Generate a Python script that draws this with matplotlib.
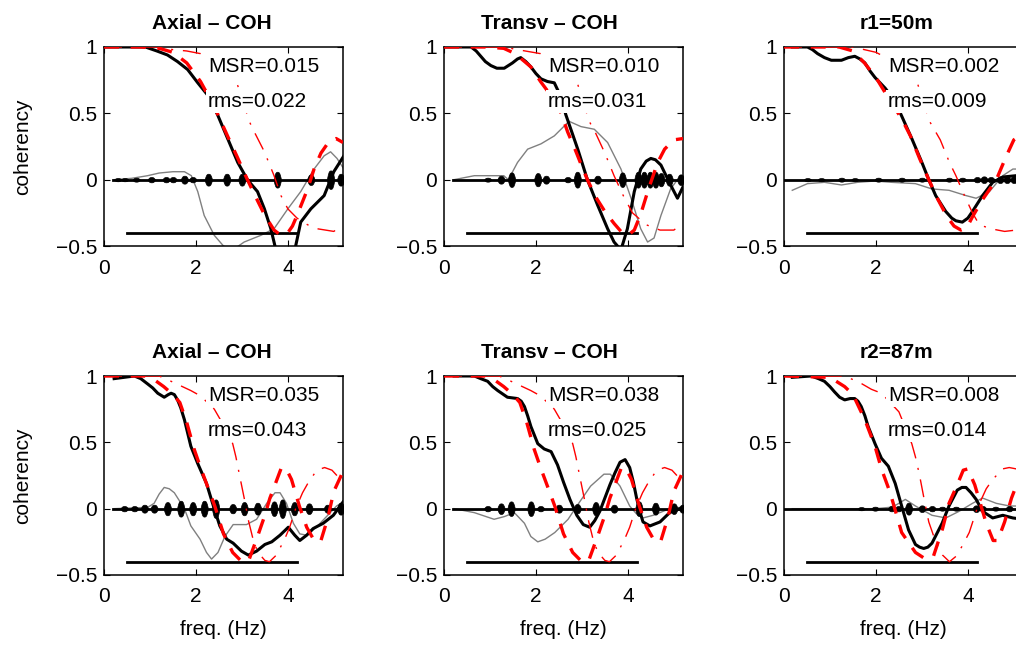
import matplotlib
matplotlib.use("Agg")
import matplotlib.pyplot as plt
import numpy as np

plt.rcParams['font.family'] = ['Liberation Sans', 'DejaVu Sans']

# ---------------- data ----------------
titles = ["Axial – COH", "Transv – COH", "r1=50m",
          "Axial – COH", "Transv – COH", "r2=87m"]
msr_labels = ["MSR=0.015", "MSR=0.010", "MSR=0.002",
              "MSR=0.035", "MSR=0.038", "MSR=0.008"]
rms_labels = ["rms=0.022", "rms=0.031", "rms=0.009",
              "rms=0.043", "rms=0.025", "rms=0.014"]
xticks = [0, 2, 4]
yticks = [-0.5, 0, 0.5, 1]
ytick_labels = ["\u22120.5", "0", "0.5", "1"]
band_range = [0.5, 4.2]
band_level = -0.4
signal_start = [0.2, 0.2, 0.0, 0.2, 0.2, 0.0]

# panel 1: Axial - COH (r1)
p1_obs = [(0.05,1.0),(0.5,1.0),(0.9,1.0),(1.15,0.97),(1.38,0.94),(1.6,0.89),(1.82,0.83),
          (2.04,0.73),(2.25,0.64),(2.47,0.49),(2.69,0.31),(2.91,0.13),(3.12,0.0),(3.34,-0.09),
          (3.49,-0.22),(3.63,-0.37),(3.72,-0.5),(3.8,-0.6),(4.05,-0.65),(4.17,-0.5),(4.28,-0.32),
          (4.5,-0.22),(4.79,-0.12),(5.0,0.06),(5.22,0.18)]
p1_gray = [(0.22,0.0),(0.6,0.01),(0.95,0.03),(1.2,0.05),(1.5,0.06),(1.75,0.06),(1.9,0.03),
           (2.04,-0.09),(2.18,-0.27),(2.4,-0.42),(2.6,-0.5),(2.8,-0.53),(3.05,-0.47),(3.41,-0.42),
           (3.7,-0.37),(4.0,-0.22),(4.28,-0.09),(4.57,0.08),(4.79,0.18),(4.93,0.21),(5.07,0.16),(5.22,0.08)]
p1_fit = [(0,1.0),(0.8,1.0),(1.2,0.99),(1.5,0.96),(1.8,0.88),(2.1,0.74),(2.4,0.55),(2.7,0.32),
          (2.9,0.17),(3.12,0.0),(3.3,-0.13),(3.5,-0.27),(3.7,-0.38),(3.85,-0.42),(4.0,-0.4),
          (4.1,-0.35),(4.2,-0.27),(4.43,-0.07),(4.57,0.08),(4.72,0.2),(4.9,0.29),(5.05,0.31),(5.2,0.28)]
p1_mod = [(0,1.0),(1.2,1.0),(1.5,0.98),(1.8,0.97),(2.1,0.95),(2.5,0.87),(2.89,0.73),(3.05,0.56),
          (3.16,0.44),(3.27,0.36),(3.49,0.21),(3.7,0.03),(3.85,-0.12),(4.0,-0.22),(4.2,-0.29),
          (4.43,-0.34),(4.64,-0.37),(5.0,-0.39),(5.2,-0.34)]
p1_burst_f = [0.3,0.45,0.7,1.03,1.35,1.5,1.75,1.93,2.27,2.67,3.0,3.77,4.5,4.93,5.15]
p1_burst_a = [0.012,0.012,0.015,0.02,0.02,0.02,0.03,0.02,0.045,0.045,0.045,0.06,0.04,0.07,0.045]

# panel 2: Transv - COH (r1)
p2_obs = [(0.05,1.0),(0.59,1.0),(0.7,0.97),(0.8,0.93),(0.9,0.89),(1.02,0.86),(1.15,0.84),(1.31,0.84),
          (1.49,0.88),(1.6,0.91),(1.67,0.92),(1.78,0.89),(1.89,0.85),(2.0,0.8),(2.11,0.76),(2.25,0.74),
          (2.4,0.73),(2.55,0.62),(2.65,0.49),(2.91,0.23),(3.12,0.0),
          (3.34,-0.19),(3.56,-0.37),(3.7,-0.47),(3.85,-0.53),(3.99,-0.37),(4.14,-0.09),(4.28,0.08),
          (4.4,0.14),(4.5,0.16),(4.6,0.15),(4.72,0.11),(4.93,-0.04),(5.08,-0.14),(5.22,-0.04)]
p2_gray = [(0.22,0.0),(0.66,0.03),(1.3,0.03),(1.4,0.0),(1.6,0.13),(1.82,0.23),(2.11,0.27),
           (2.4,0.33),(2.72,0.44),(2.98,0.4),(3.27,0.38),(3.56,0.28),(3.85,0.08),(4.07,-0.14),
           (4.28,-0.37),(4.43,-0.47),(4.57,-0.44),(4.72,-0.27),(4.93,-0.07),(5.08,0.0),(5.22,0.03)]
p2_fit = [(0,1.0),(0.9,1.0),(1.3,0.99),(1.55,0.95),(1.89,0.85),(2.1,0.74),(2.4,0.6),(2.55,0.5),
          (2.69,0.36),(2.85,0.23),(3.0,0.1),(3.12,0.0),(3.3,-0.13),(3.5,-0.24),(3.7,-0.33),
          (3.85,-0.39),(4.0,-0.42),(4.14,-0.38),(4.28,-0.26),(4.45,-0.07),(4.65,0.13),(4.8,0.23),
          (5.0,0.3),(5.2,0.31)]
p2_mod = [(0,1.0),(1.3,1.0),(1.6,0.98),(2.1,0.95),(2.5,0.87),(2.9,0.73),(3.05,0.56),(3.16,0.44),
          (3.3,0.35),(3.5,0.2),(3.7,0.03),(3.9,-0.12),(4.1,-0.25),(4.4,-0.34),(4.7,-0.38),
          (5.0,-0.38),(5.2,-0.33)]
p2_burst_f = [0.95,1.24,1.47,2.04,2.22,2.69,2.9,3.34,3.88,4.22,4.35,4.48,4.6,4.72,4.9,5.15]
p2_burst_a = [0.015,0.03,0.055,0.05,0.03,0.02,0.06,0.03,0.055,0.06,0.06,0.06,0.06,0.05,0.045,0.04]

# panel 3: r1=50m
p3_obs = [(0.18,1.0),(0.51,1.0),(0.62,0.98),(0.73,0.95),(0.88,0.92),(1.03,0.9),(1.25,0.9),(1.4,0.92),
          (1.54,0.93),(1.65,0.91),(1.76,0.88),(1.87,0.82),(1.98,0.77),(2.2,0.69),(2.4,0.6),(2.56,0.48),
          (2.78,0.31),(3.0,0.13),(3.15,0.0),(3.3,-0.12),(3.52,-0.24),(3.65,-0.29),(3.74,-0.31),
          (3.88,-0.32),(4.0,-0.29),(4.1,-0.24),(4.32,-0.12),(4.54,-0.02),(4.76,0.02),(5.05,0.03),(5.2,0.03)]
p3_gray = [(0.18,-0.08),(0.51,-0.03),(0.88,-0.02),(1.25,-0.04),(1.6,-0.02),(1.98,-0.01),
           (2.34,-0.02),(2.86,-0.03),(3.22,-0.07),(3.59,-0.08),(3.96,-0.12),(4.18,-0.14),
           (4.47,-0.09),(4.76,0.03),(4.98,0.08),(5.2,0.08)]
p3_fit = [(0,1.0),(1.2,1.0),(1.5,0.97),(1.75,0.88),(2.0,0.77),(2.3,0.6),(2.56,0.46),(2.75,0.33),
          (2.95,0.16),(3.15,0.0),(3.35,-0.15),(3.55,-0.28),(3.7,-0.35),(3.85,-0.38),(3.98,-0.36),
          (4.1,-0.28),(4.32,-0.15),(4.62,0.0),(4.84,0.18),(5.0,0.3),(5.2,0.35)]
p3_mod = [(0,1.0),(1.5,1.0),(2.0,0.96),(2.5,0.87),(2.9,0.73),(3.05,0.57),(3.15,0.45),(3.4,0.3),
          (3.6,0.13),(3.74,0.03),(3.9,-0.1),(4.1,-0.25),(4.25,-0.34),(4.5,-0.37),(4.8,-0.39),
          (5.05,-0.38),(5.2,-0.35)]
p3_burst_f = [0.51,0.81,1.25,1.54,2.05,2.56,3.0,3.59,3.88,4.2,4.35,4.5,4.7,4.85,5.0,5.15]
p3_burst_a = [0.012,0.012,0.015,0.012,0.015,0.015,0.015,0.015,0.015,0.02,0.025,0.02,0.025,0.025,0.025,0.025]

# panel 4: Axial - COH (r2)
p4_obs = [(0.22,0.98),(0.66,1.0),(0.8,0.98),(0.95,0.94),(1.06,0.91),(1.17,0.87),(1.31,0.84),(1.4,0.86),
          (1.46,0.87),(1.53,0.86),(1.6,0.82),(1.67,0.76),(1.75,0.67),(1.82,0.57),(1.89,0.47),(2.04,0.34),
          (2.23,0.19),(2.38,0.02),(2.52,-0.13),(2.67,-0.23),
          (2.81,-0.26),(2.99,-0.32),(3.14,-0.35),(3.32,-0.32),(3.5,-0.27),(3.65,-0.25),(3.83,-0.2),
          (4.01,-0.14),(4.15,-0.2),(4.26,-0.24),(4.41,-0.2),(4.55,-0.15),(4.77,-0.11),(4.99,-0.05),(5.2,0.05)]
p4_gray = [(0.22,0.0),(0.95,0.01),(1.09,0.04),(1.2,0.11),(1.31,0.16),(1.42,0.15),(1.53,0.12),(1.75,0.0),
           (1.89,-0.13),(2.09,-0.23),(2.23,-0.33),(2.34,-0.38),(2.48,-0.33),(2.63,-0.21),(2.81,-0.12),
           (3.1,-0.12),(3.32,-0.08),(3.54,0.04),(3.72,0.12),(3.83,0.12),(3.97,0.04),(4.12,-0.11),
           (4.26,-0.19),(4.41,-0.2),(4.62,-0.14),(4.84,-0.06),(5.06,0.02),(5.2,0.05)]
p4_fit = [(0,1.0),(0.9,1.0),(1.1,0.97),(1.3,0.92),(1.5,0.86),(1.65,0.8),(1.8,0.65),(1.96,0.45),
          (2.1,0.31),(2.25,0.17),(2.41,0.02),(2.6,-0.19),(2.8,-0.33),(3.0,-0.4),(3.15,-0.39),
          (3.35,-0.2),(3.5,-0.05),(3.61,0.08),(3.72,0.18),(3.85,0.3),(3.95,0.31),(4.08,0.22),
          (4.25,0.02),(4.41,-0.14),(4.59,-0.25),(4.72,-0.24),(4.87,-0.07),(5.0,0.13),(5.2,0.28)]
p4_mod = [(0,1.0),(1.2,1.0),(1.46,0.96),(1.89,0.89),(2.1,0.85),(2.4,0.75),(2.65,0.6),(2.8,0.49),
          (2.87,0.39),(2.95,0.25),(3.05,0.08),(3.15,-0.1),(3.25,-0.24),(3.35,-0.33),(3.5,-0.39),
          (3.6,-0.4),(3.75,-0.35),(3.93,-0.23),(4.04,-0.14),(4.17,0.0),(4.32,0.12),(4.45,0.2),
          (4.63,0.29),(4.8,0.31),(4.96,0.29),(5.2,0.2)]
p4_burst_f = [0.44,0.66,0.88,1.09,1.38,1.67,1.93,2.18,2.43,2.8,3.05,3.34,3.7,3.88,4.14,4.46,4.86,5.15]
p4_burst_a = [0.02,0.02,0.03,0.03,0.05,0.06,0.05,0.06,0.07,0.035,0.05,0.045,0.055,0.07,0.05,0.04,0.03,0.045]

# panel 5: Transv - COH (r2)
p5_obs = [(0.22,1.0),(0.66,1.0),(0.8,0.98),(0.95,0.96),(1.06,0.92),(1.17,0.89),(1.38,0.84),(1.6,0.83),
          (1.68,0.81),(1.75,0.77),(1.82,0.7),(1.89,0.62),(2.04,0.49),(2.18,0.45),(2.33,0.43),(2.47,0.33),
          (2.6,0.2),(2.74,0.07),(2.89,-0.05),(3.03,-0.12),(3.17,-0.14),(3.28,-0.09),(3.39,-0.02),
          (3.5,0.08),(3.61,0.18),(3.72,0.27),(3.83,0.35),(3.94,0.37),(4.04,0.31),(4.12,0.2),(4.19,0.08),
          (4.26,-0.02),(4.33,-0.1),(4.48,-0.13),(4.7,-0.1),(4.91,-0.03),(5.13,0.0),(5.2,0.0)]
p5_gray = [(0.22,0.0),(0.66,-0.03),(1.09,-0.08),(1.31,-0.06),(1.53,-0.03),(1.75,-0.11),(1.89,-0.21),
           (2.04,-0.25),(2.2,-0.23),(2.41,-0.18),(2.7,-0.08),(2.89,0.02),(3.19,0.17),(3.48,0.26),
           (3.62,0.26),(3.83,0.17),(4.04,0.02),(4.19,-0.04),(4.33,-0.07),(4.55,-0.05),(4.84,-0.01),
           (5.13,0.01),(5.2,0.01)]
p5_fit = [(0,1.0),(0.9,1.0),(1.1,0.97),(1.3,0.92),(1.5,0.86),(1.65,0.8),(1.8,0.65),(1.96,0.45),
          (2.1,0.31),(2.25,0.17),(2.41,0.02),(2.6,-0.19),(2.8,-0.33),(3.0,-0.4),(3.15,-0.39),
          (3.35,-0.2),(3.5,-0.05),(3.61,0.08),(3.72,0.18),(3.85,0.3),(3.95,0.31),(4.08,0.22),
          (4.25,0.02),(4.41,-0.14),(4.59,-0.25),(4.72,-0.24),(4.87,-0.07),(5.0,0.13),(5.2,0.28)]
p5_mod = [(0,1.0),(1.2,1.0),(1.46,0.96),(1.89,0.89),(2.1,0.85),(2.4,0.75),(2.65,0.6),(2.8,0.49),
          (2.87,0.39),(2.95,0.25),(3.05,0.08),(3.15,-0.1),(3.25,-0.24),(3.35,-0.33),(3.5,-0.39),
          (3.6,-0.4),(3.75,-0.35),(3.93,-0.23),(4.04,-0.14),(4.17,0.0),(4.32,0.12),(4.45,0.2),
          (4.63,0.29),(4.8,0.31),(4.96,0.29),(5.2,0.2)]
p5_burst_f = [0.95,1.24,1.46,1.89,2.1,2.5,2.9,3.3,3.7,4.24,4.6,5.0,5.19]
p5_burst_a = [0.02,0.04,0.055,0.055,0.02,0.03,0.035,0.05,0.03,0.055,0.045,0.04,0.03]

# panel 6: r2=87m
p6_obs = [(0.18,0.99),(0.59,1.0),(0.75,0.98),(0.88,0.96),(1.0,0.92),(1.1,0.88),(1.21,0.84),(1.32,0.82),
          (1.44,0.83),(1.54,0.83),(1.61,0.81),(1.68,0.77),(1.76,0.7),(1.83,0.62),(1.98,0.49),(2.12,0.38),
          (2.27,0.32),(2.42,0.19),(2.56,0.02),(2.71,-0.16),(2.86,-0.27),(2.95,-0.29),(3.04,-0.3),
          (3.13,-0.29),(3.22,-0.26),(3.44,-0.11),(3.59,0.02),(3.77,0.14),(3.87,0.16),(3.96,0.16),
          (4.07,0.12),(4.18,0.07),(4.32,-0.02),(4.54,-0.07),(4.76,-0.05),(4.98,-0.07),(5.2,-0.08)]
p6_gray = [(0.18,0.0),(1.0,0.0),(2.0,0.0),(2.3,0.01),(2.45,0.03),(2.64,0.07),(2.86,0.02),
           (3.22,-0.05),(3.52,-0.07),(3.81,-0.02),(4.1,0.04),(4.32,0.08),(4.62,0.04),(4.91,0.02),(5.2,0.02)]
p6_fit = [(0,1.0),(1.0,0.99),(1.32,0.92),(1.5,0.86),(1.76,0.67),(1.98,0.47),(2.12,0.3),(2.31,0.12),
          (2.56,-0.18),(2.86,-0.33),(3.08,-0.38),(3.25,-0.36),(3.45,-0.15),(3.59,0.04),(3.77,0.18),
          (3.9,0.29),(4.0,0.3),(4.15,0.18),(4.4,-0.11),(4.55,-0.24),(4.65,-0.24),(4.8,-0.1),
          (4.95,0.08),(5.05,0.17),(5.2,0.3)]
p6_mod = [(0,1.0),(1.3,1.0),(1.6,0.96),(1.9,0.9),(2.12,0.87),(2.5,0.73),(2.78,0.49),(2.86,0.39),
          (2.95,0.25),(3.05,0.07),(3.15,-0.1),(3.3,-0.25),(3.45,-0.35),(3.6,-0.4),(3.74,-0.36),
          (3.88,-0.28),(4.03,-0.18),(4.2,0.0),(4.4,0.15),(4.54,0.22),(4.76,0.3),(4.9,0.31),
          (5.05,0.3),(5.2,0.25)]
p6_burst_f = [1.68,1.98,2.34,2.49,2.71,3.0,3.22,3.44,3.74,4.18,4.32,4.6,4.9]
p6_burst_a = [0.012,0.015,0.02,0.02,0.045,0.025,0.02,0.015,0.015,0.025,0.02,0.015,0.02]

panels = [
    (p1_obs, p1_gray, p1_fit, p1_mod, p1_burst_f, p1_burst_a),
    (p2_obs, p2_gray, p2_fit, p2_mod, p2_burst_f, p2_burst_a),
    (p3_obs, p3_gray, p3_fit, p3_mod, p3_burst_f, p3_burst_a),
    (p4_obs, p4_gray, p4_fit, p4_mod, p4_burst_f, p4_burst_a),
    (p5_obs, p5_gray, p5_fit, p5_mod, p5_burst_f, p5_burst_a),
    (p6_obs, p6_gray, p6_fit, p6_mod, p6_burst_f, p6_burst_a),
]

# ---------------- layout / style ----------------
W, H = 1016, 649
fig = plt.figure(figsize=(W / 100, H / 100), dpi=100)
col_left = [104, 444, 784]
row_top = [47, 376]
ax_w, ax_h = 239, 199
title_x = [0.452, 0.44, 0.47]
XMAX = 5.2
FS = 15

# envelope template for one wave packet of the recorded signal (drawing style)
burst_dx = np.array([-1.0, -0.8, -0.55, -0.3, 0.0, 0.3, 0.55, 0.8, 1.0]) * 0.075
burst_shape = np.array([0.2, 0.55, 0.85, 0.97, 1.0, 0.97, 0.85, 0.55, 0.2])

for i, (obs, gray, fit, mod, bf, ba) in enumerate(panels):
    r, c = divmod(i, 3)
    rect = [col_left[c] / W, 1 - (row_top[r] + ax_h) / H, ax_w / W, ax_h / H]
    ax = fig.add_axes(rect)

    gx, gy = zip(*gray)
    ax.plot(gx, gy, color='#808080', lw=1.0, zorder=2)

    # recorded signal near zero
    ax.plot([signal_start[i], XMAX], [0, 0], color='black', lw=2.0, zorder=2.5)
    for cf, a in zip(bf, ba):
        xs = cf + burst_dx
        ax.fill_between(xs, -a * burst_shape, a * burst_shape, color='black', lw=0.5,
                        edgecolor='black', zorder=2.5)

    ax.plot(band_range, [band_level, band_level], color='black', lw=2.0, zorder=3)

    ox, oy = zip(*obs)
    ax.plot(ox, oy, color='black', lw=2.2, zorder=3, solid_joinstyle='round')
    fx, fy = zip(*fit)
    ax.plot(fx, fy, color='#ff0000', lw=2.4, ls=(0, (4.5, 3.5)), zorder=4)
    mx, my = zip(*mod)
    ax.plot(mx, my, color='#ff0000', lw=1.0, ls=(0, (13, 7, 1.5, 7)), zorder=4)

    tb = dict(facecolor='white', edgecolor='none', pad=1.5)
    ax.text(2.26, 0.85, msr_labels[i], fontsize=FS, va='center', ha='left', bbox=tb, zorder=6)
    ax.text(2.26, 0.59, rms_labels[i], fontsize=FS, va='center', ha='left', bbox=tb, zorder=6)

    ax.set_xlim(0, XMAX)
    ax.set_ylim(-0.5, 1.0)
    ax.set_xticks(xticks)
    ax.set_xticklabels([str(t) for t in xticks])
    ax.set_yticks(yticks)
    ax.set_yticklabels(ytick_labels)
    ax.tick_params(direction='in', top=True, right=True, length=4, width=0.8, labelsize=FS)
    ax.tick_params(axis='x', pad=9)
    ax.tick_params(axis='y', pad=5)
    for sp in ax.spines.values():
        sp.set_linewidth(1.1)

    ax.set_title(titles[i], fontsize=FS, fontweight='bold', pad=13, x=title_x[c])
    if c == 0:
        ax.set_ylabel('coherency', fontsize=FS)
        ax.yaxis.set_label_coords(-0.30, 0.5)
    if r == 1:
        ax.set_xlabel('freq. (Hz)', fontsize=FS)
        ax.xaxis.set_label_coords(0.5, -0.225)

fig.savefig('out.png', dpi=100)
